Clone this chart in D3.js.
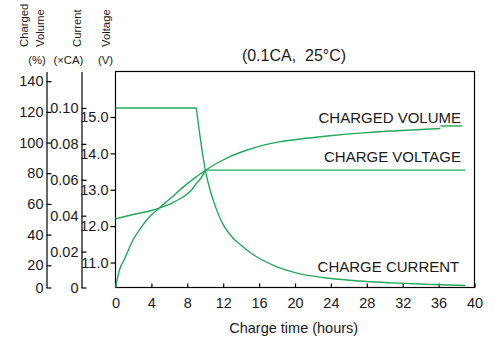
<!DOCTYPE html>
<html><head><meta charset="utf-8">
<script src="https://cdn.jsdelivr.net/npm/d3@7"></script>
<style>body{margin:0;background:#fff}text{fill:#1a1a1a}</style>
</head><body><svg id="c" width="503" height="356"></svg>
<script>
const timeTicks = [0,4,8,12,16,20,24,28,32,36,40];
const volumeTicks = [0,20,40,60,80,100,120,140];
const currentTicks = [0,0.02,0.04,0.06,0.08,0.10];
const voltageTicks = [11,12,13,14,15];

const volumeTime   = [0,0.45,1,1.95,2.9,3.8,4.75,6.1,7.5,8.8,10,11.3,12.7,14.6,16.4,18.2,20.2,23.9,27.6,31.4,36.2];
const volumeValues = [0,16,24,36.5,45,51.7,56.7,63.5,70.8,76.8,81.8,86.5,90.7,95,98.2,100.4,102,104.4,106.3,107.7,109.2];
const volumeTailTime = [36.2,38.6];
const volumeTailValues = [110.8,110.8];

const voltageTime   = [0,2,4,4.8,6,7.5,8.5,9,9.6,10];
const voltageValues = [12.2,12.32,12.43,12.49,12.6,12.8,13.0,13.17,13.35,13.54];
const voltageFlatTime = [10,39];
const voltageFlatValues = [13.54,13.54];

const currentFlatTime = [0,9];
const currentFlatValues = [0.10,0.10];
const currentTime   = [9,10,10.5,11,12,13,14,15,16,18,20,23.3,27.1,30.8,34.5,39];
const currentValues = [0.10,0.0656,0.055,0.047,0.035,0.028,0.0235,0.0195,0.0163,0.0115,0.0083,0.0054,0.0036,0.0026,0.0018,0.0011];

const svg = d3.select('#c');
const L = 115.5, R = 474.5, T = 71.5, B = 287.5;
const green = '#22a85c';
const narrow = '"Liberation Sans Narrow","Arial Narrow","Liberation Sans",Arial,sans-serif';
const sans = '"Liberation Sans",Arial,sans-serif';

const x = d3.scaleLinear().domain([0,40]).range([L,R]);
const yVol = d3.scaleLinear().domain([0,20,146.3]).range([B,265.3,T]);
const yCur = d3.scaleLinear().domain([0,0.1203]).range([B,T]);
const yVolt = d3.scaleLinear().domain([10.313,16.251]).range([B,T]);

function styleAxis(g){
  g.selectAll('text').attr('font-family', narrow).attr('font-size', 14.5).attr('fill','#1a1a1a');
  g.selectAll('line,path').attr('stroke','#000').attr('stroke-width',1.2);
}

svg.append('g').attr('transform','translate(46.5,0)')
  .call(d3.axisLeft(yVol).tickValues(volumeTicks).tickSizeInner(-5).tickSizeOuter(0).tickPadding(3))
  .call(styleAxis);
svg.append('g').attr('transform','translate(81.5,0)')
  .call(d3.axisLeft(yCur).tickValues(currentTicks).tickSizeInner(-5).tickSizeOuter(0).tickPadding(3)
    .tickFormat(d => d === 0 ? '0' : d3.format('.2f')(d)))
  .call(styleAxis);
svg.append('g').attr('transform',`translate(${L},0)`)
  .call(d3.axisLeft(yVolt).tickValues(voltageTicks).tickSizeInner(5).tickSizeOuter(0).tickPadding(2)
    .tickFormat(d3.format('.1f')))
  .call(styleAxis)
  .call(g => g.select('.domain').remove());
svg.append('g').attr('transform',`translate(0,${B})`)
  .call(d3.axisBottom(x).tickValues(timeTicks).tickSizeInner(-4).tickSizeOuter(0).tickPadding(10))
  .call(styleAxis)
  .call(g => g.select('.domain').remove());

svg.append('rect').attr('x',L).attr('y',T).attr('width',R-L).attr('height',B-T)
  .attr('fill','none').attr('stroke','#000').attr('stroke-width',1.2);

function draw(ts, vs, yS, curve){
  const pts = ts.map((t,i)=>[t,vs[i]]);
  svg.append('path').datum(pts)
    .attr('d', d3.line().x(d=>x(d[0])).y(d=>yS(d[1])).curve(curve))
    .attr('fill','none').attr('stroke',green).attr('stroke-width',1.4);
}
draw(volumeTime, volumeValues, yVol, d3.curveMonotoneX);
draw(volumeTailTime, volumeTailValues, yVol, d3.curveLinear);
draw(voltageTime, voltageValues, yVolt, d3.curveMonotoneX);
draw(voltageFlatTime, voltageFlatValues, yVolt, d3.curveLinear);
draw(currentFlatTime, currentFlatValues, yCur, d3.curveLinear);
draw(currentTime, currentValues, yCur, d3.curveMonotoneX);

const lab = (t, xx, yy) => svg.append('text').text(t).attr('x',xx).attr('y',yy)
  .attr('text-anchor','end').attr('font-family',sans).attr('font-size',15);
lab('CHARGED VOLUME', 461, 123.3);
lab('CHARGE VOLTAGE', 461, 161.7);
lab('CHARGE CURRENT', 459.3, 272.3);

svg.append('text').text('(0.1CA,  25°C)').attr('x',294).attr('y',60.5)
  .attr('text-anchor','middle').attr('font-family',sans).attr('font-size',16)
  .style('white-space','pre');

svg.append('text').text('Charge time (hours)').attr('x',293.7).attr('y',333)
  .attr('text-anchor','middle').attr('font-family',sans).attr('font-size',14.5);

const rot = (t, xx) => svg.append('text').text(t)
  .attr('transform',`translate(${xx},47) rotate(-90)`)
  .attr('font-family',sans).attr('font-size',11.3);
rot('Charged', 28);
rot('Volume', 44);
rot('Current', 81);
rot('Voltage', 109.5);
const unit = (t, xx) => svg.append('text').text(t).attr('x',xx).attr('y',63.5)
  .attr('text-anchor','middle').attr('font-family',sans).attr('font-size',11.3);
unit('(%)', 37);
unit('(×CA)', 68.3);
unit('(V)', 105.5);
</script></body></html>
